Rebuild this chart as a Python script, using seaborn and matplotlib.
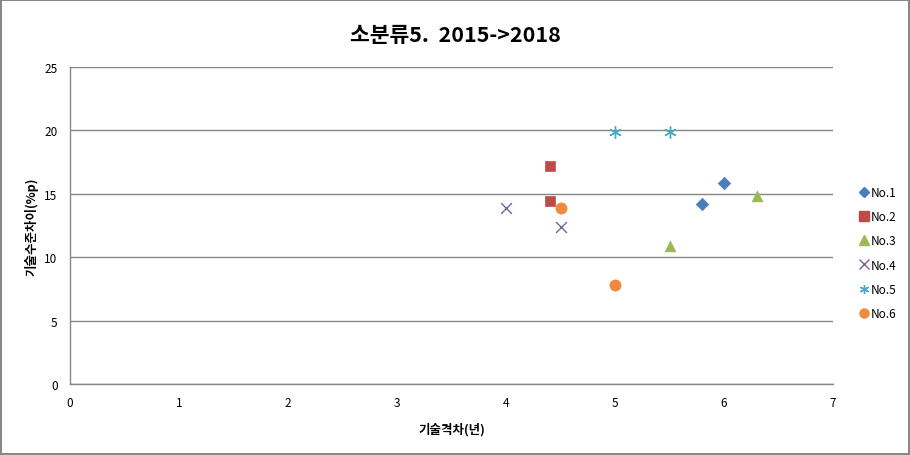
import matplotlib
matplotlib.use("Agg")
import matplotlib.pyplot as plt
import seaborn as sns
import pandas as pd

series = ["No.1", "No.1", "No.2", "No.2", "No.3", "No.3",
          "No.4", "No.4", "No.5", "No.5", "No.6", "No.6"]
gap_years = [6.0, 5.8, 4.4, 4.4, 5.5, 6.3, 4.0, 4.5, 5.0, 5.5, 4.5, 5.0]
level_diff = [15.85, 14.2, 17.2, 14.45, 10.9, 14.85, 13.9, 12.4, 19.9, 19.9, 13.85, 7.8]

order = ["No.1", "No.2", "No.3", "No.4", "No.5", "No.6"]
colors = ["#4A7EBB", "#BE4B48", "#98B954", "#7D60A0", "#46AAC5", "#F08A3C"]
marker_map = {"No.1": "D", "No.2": "s", "No.3": "^", "No.4": "x", "No.5": (6, 2, 0), "No.6": "o"}

df = pd.DataFrame({"series": series, "x": gap_years, "y": level_diff})

sns.set_style("white")
plt.rcParams["font.family"] = ["Noto Sans CJK KR", "DejaVu Sans"]
plt.rcParams["text.color"] = "black"
plt.rcParams["axes.labelcolor"] = "black"

fig = plt.figure(figsize=(9.1, 4.56), dpi=100)
fig.patch.set_edgecolor("#888888")
fig.patch.set_linewidth(1.5)
ax = fig.add_axes([70/910, 1-385/456, (833-70)/910, (385-68)/456])

sizes = {"No.1": 40, "No.2": 60, "No.3": 60, "No.4": 60, "No.5": 70, "No.6": 65}
for name, col in zip(order, colors):
    sub = df[df.series == name]
    m = marker_map[name]
    kw = dict(color=col, marker=m, s=sizes[name], label=name, ax=ax, legend=False)
    if m in ("x", (6, 2, 0)):
        kw.update(linewidth=1.0)
    else:
        kw.update(edgecolor=col, linewidth=0.5)
    sns.scatterplot(data=sub, x="x", y="y", **kw)

ax.set_xlim(0, 7)
ax.set_ylim(0, 25)
ax.set_xticks(range(0, 8))
ax.set_yticks(range(0, 26, 5))
ax.yaxis.grid(True, color="#868686", linewidth=1.0)
ax.xaxis.grid(False)
ax.set_axisbelow(True)
for s in ["top", "right"]:
    ax.spines[s].set_visible(False)
for s in ["left", "bottom"]:
    ax.spines[s].set_color("#868686")
    ax.spines[s].set_linewidth(1.0)
ax.tick_params(axis="both", direction="out", length=5, width=1, color="#868686",
               labelsize=8.5, labelcolor="black", pad=4)

ax.set_xlabel("기술격차(년)", fontsize=9, fontweight="bold", labelpad=9)
ax.set_ylabel("기술수준차이(%p)", fontsize=9, fontweight="bold", labelpad=4)
fig.text(455/910, 1-35/456, "소분류5.  2015->2018", ha="center", va="center",
         fontsize=15.5, fontweight="bold", color="black")

handles = []
for name, col in zip(order, colors):
    m = marker_map[name]
    if m in ("x", (6, 2, 0)):
        h = plt.Line2D([], [], linestyle="", marker=m, color=col, markersize=6.5, markeredgewidth=1.0)
    else:
        h = plt.Line2D([], [], linestyle="", marker=m, color=col, markersize=6.5 if m != "D" else 5.5,
                       markeredgecolor=col)
    handles.append(h)
fig.legend(handles, order, loc="center left", bbox_to_anchor=(852/910, 1-254/456),
           frameon=False, fontsize=8.5, handletextpad=0.1, labelspacing=0.95,
           handlelength=1.0, borderpad=0)

fig.savefig("out.png", dpi=100, edgecolor=fig.get_edgecolor())
